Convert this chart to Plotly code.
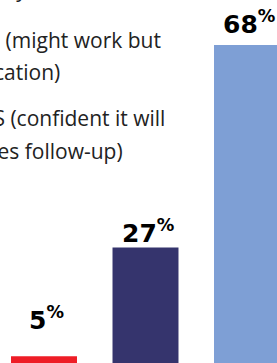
import plotly.graph_objects as go

categories = ["No", "Maybe", "Yes"]
values = [5, 27, 68]
bar_colors = ["#EE1D26", "#35346D", "#7E9FD5"]
legend_lines = [
    "NO (unlikely to work)",
    "MAYBE (might work but",
    "needs clarification)",
    "YES (confident it will",
    "work; requires follow-up)",
]

W, H = 277, 363
x_pos = list(range(len(categories)))
label_yshift = [19, -2, 4]

fig = go.Figure()
fig.add_trace(go.Bar(
    x=x_pos, y=values, width=0.65,
    marker=dict(color=bar_colors, line=dict(width=0)),
    hoverinfo="skip",
))

# value labels
for xi, v, ys in zip(x_pos, values, label_yshift):
    fig.add_annotation(
        x=xi, y=v, xref="x", yref="y",
        text=f"<b>{v}</b><sup><b>%</b></sup>",
        showarrow=False, yanchor="bottom", xanchor="center",
        yshift=ys, xshift=2,
        font=dict(family="DejaVu Sans", size=25, color="#000000"),
    )

# legend text (cropped on the left)
line_right = [115, 163, 62, 167, 125]
line_center = [-11, 39.5, 72.5, 117.5, 150.5]
for txt, rx, cy in zip(legend_lines, line_right, line_center):
    fig.add_annotation(
        x=rx / W, y=1 - cy / H, xref="paper", yref="paper",
        text=txt, showarrow=False, xanchor="right", yanchor="middle",
        font=dict(family="Open Sans, Noto Sans", size=21, color="#222222"),
    )

s = 4.94
b = 381.0
fig.update_layout(
    width=W, height=H,
    margin=dict(l=0, r=0, t=0, b=0),
    paper_bgcolor="white", plot_bgcolor="white",
    showlegend=False,
    xaxis=dict(range=[-44 / 101.5, (W - 44) / 101.5], visible=False, fixedrange=True),
    yaxis=dict(range=[(b - H) / s, b / s], visible=False, fixedrange=True),
    bargap=0.35,
)

fig.write_html(
    "out.html",
    config={"displayModeBar": False},
    post_script="document.body.style.margin='0';document.body.style.overflow='hidden';",
)
